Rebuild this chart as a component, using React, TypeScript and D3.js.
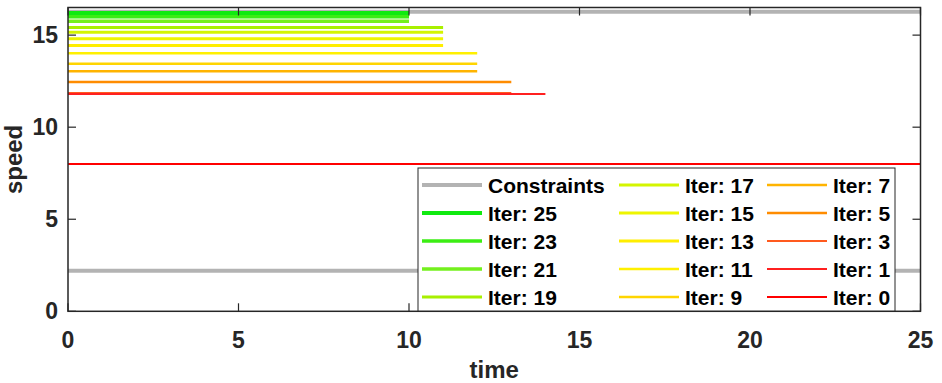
import React from "react";
import { scaleLinear, line } from "d3";

// iteration speed profiles (constant speed up to end time)
const iterLabels = [25, 23, 21, 19, 17, 15, 13, 11, 9, 7, 5, 3, 1, 0];
const iterSpeeds = [16.2, 16.0, 15.75, 15.42, 15.15, 14.8, 14.43, 14.02, 13.44, 13.04, 12.46, 11.86, 11.8, 8];
const iterEnds = [10, 10, 10, 11, 11, 11, 11, 12, 12, 12, 13, 13, 14, 25];
const iterColors = ["#10ea10", "#3cee14", "#74f01e", "#a8f000", "#d4f500", "#eef500", "#ffee00", "#fff000", "#ffd500", "#ffb400", "#ff8c00", "#ff5a1e", "#ff2020", "#ff0000"];
const iterWidths = [4, 3.5, 3.5, 3, 3, 3, 3, 2.5, 2.5, 2.5, 2.5, 2, 2, 2];

// constraint bounds
const constraintLow = 2.2;
const constraintHigh = 16.27;
const timeRange = [0, 25];

const xTicks = [0, 5, 10, 15, 20, 25];
const yTicks = [0, 5, 10, 15];

const W = 942, H = 383;
const m = { left: 68, right: 920.5, top: 7.5, bottom: 311.3 };
const axisColor = "#262626";
const font = "'Liberation Sans', Arial, Helvetica, sans-serif";

export default function App() {
  const x = scaleLinear().domain([0, 25]).range([m.left, m.right]);
  const y = scaleLinear().domain([0, 16.5]).range([m.bottom, m.top]);
  const path = line<[number, number]>().x(d => x(d[0])).y(d => y(d[1]));

  // legend entries: Constraints first, then iterations, column-major 5 rows
  const legend = [{ label: "Constraints", color: "#b3b3b3", w: 4 }].concat(
    iterLabels.map((it, i) => ({ label: `Iter: ${it}`, color: iterColors[i], w: iterWidths[i] }))
  );
  const lg = { x: 418, y: 168, w: 477, h: 143 };
  const colX = [422, 619, 767];
  const rowY = [185, 213, 241, 269, 297];

  return (
    <svg width={W} height={H} style={{ position: "absolute", left: 0, top: 0, background: "#fff" }}>
      {/* constraints */}
      <path d={path([[timeRange[0], constraintLow], [timeRange[1], constraintLow]]) || ""} stroke="#b3b3b3" strokeWidth={4} fill="none" />
      <path d={path([[timeRange[0], constraintHigh], [timeRange[1], constraintHigh]]) || ""} stroke="#b3b3b3" strokeWidth={4} fill="none" />
      {/* iterations */}
      {iterLabels.map((it, i) => (
        <path key={it} d={path([[0, iterSpeeds[i]], [iterEnds[i], iterSpeeds[i]]]) || ""}
          stroke={iterColors[i]} strokeWidth={iterWidths[i]} fill="none" />
      ))}
      {/* axes box */}
      <rect x={m.left} y={m.top} width={m.right - m.left} height={m.bottom - m.top} fill="none" stroke={axisColor} strokeWidth={1.5} />
      {xTicks.map(t => (
        <g key={"x" + t}>
          <line x1={x(t)} x2={x(t)} y1={m.bottom} y2={m.bottom - 8} stroke={axisColor} strokeWidth={1.2} />
          <line x1={x(t)} x2={x(t)} y1={m.top} y2={m.top + 8} stroke={axisColor} strokeWidth={1.2} />
          <text x={x(t)} y={348} textAnchor="middle" fontFamily={font} fontWeight="bold" fontSize={23} fill={axisColor}>{t}</text>
        </g>
      ))}
      {yTicks.map(t => (
        <g key={"y" + t}>
          <line x1={m.left} x2={m.left + 8} y1={y(t)} y2={y(t)} stroke={axisColor} strokeWidth={1.2} />
          <line x1={m.right} x2={m.right - 8} y1={y(t)} y2={y(t)} stroke={axisColor} strokeWidth={1.2} />
          <text x={58} y={y(t) + 8} textAnchor="end" fontFamily={font} fontWeight="bold" fontSize={23} fill={axisColor}>{t}</text>
        </g>
      ))}
      <text x={(m.left + m.right) / 2} y={378} textAnchor="middle" fontFamily={font} fontWeight="bold" fontSize={24} fill={axisColor}>time</text>
      <text transform={`translate(22,${(m.top + m.bottom) / 2}) rotate(-90)`} textAnchor="middle" fontFamily={font} fontWeight="bold" fontSize={24} fill={axisColor}>speed</text>
      {/* legend */}
      <rect x={lg.x} y={lg.y} width={lg.w} height={lg.h} fill="#fff" stroke={axisColor} strokeWidth={1} />
      {legend.map((e, i) => {
        const c = Math.floor(i / 5), r = i % 5;
        const lx = colX[c], ly = rowY[r];
        return (
          <g key={e.label}>
            <line x1={lx} x2={lx + 60} y1={ly} y2={ly} stroke={e.color} strokeWidth={e.w} />
            <text x={lx + 66} y={ly + 7.5} fontFamily={font} fontWeight="bold" fontSize={21} fill="#000">{e.label}</text>
          </g>
        );
      })}
    </svg>
  );
}
